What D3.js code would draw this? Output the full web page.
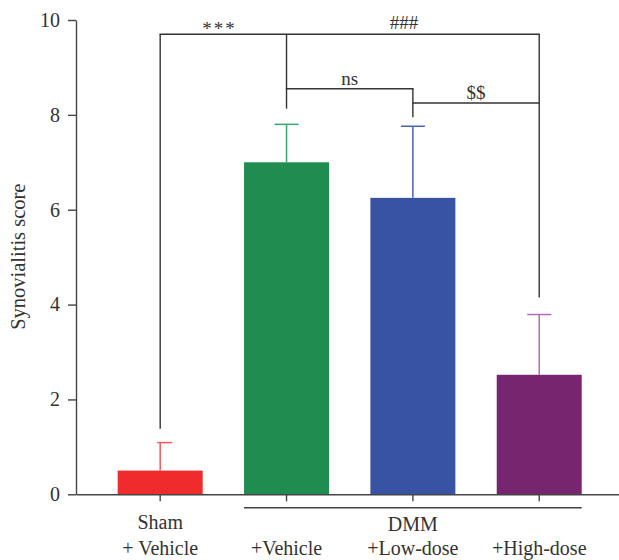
<!DOCTYPE html>
<html>
<head>
<meta charset="utf-8">
<script src="https://cdn.jsdelivr.net/npm/d3@7"></script>
<style>
  html, body { margin: 0; padding: 0; background: #fff; }
  svg { display: block; }
  text { font-family: "Liberation Serif", "DejaVu Serif", serif; fill: #333; }
</style>
</head>
<body>
<svg id="chart" width="619" height="560"></svg>
<script>
// ---- data ----
const categories = ["Sham + Vehicle", "DMM +Vehicle", "DMM +Low-dose", "DMM +High-dose"];
const tickLine1 = ["Sham", "", "DMM", ""];
const tickLine2 = ["+ Vehicle", "+Vehicle", "+Low-dose", "+High-dose"];
const means = [0.5, 7.0, 6.25, 2.52];
const errUpper = [1.09, 7.8, 7.76, 3.79];
const barColors = ["#ef2b2c", "#1e8d4f", "#3852a4", "#782570"];
const errColors = ["#f25a5a", "#3aa56c", "#4a64b6", "#b56cb5"];
const yTicks = [0, 2, 4, 6, 8, 10];
const yLabel = "Synovialitis score";
const groupLabel = "DMM";
// significance brackets: horizontal [fromIdx, toIdx, value]
const bracketH = [[0, 3, 9.7], [1, 2, 8.55], [2, 3, 8.25]];
// vertical legs: [idx, fromValue, toValue]
const bracketV = [[0, 9.7, 1.38], [1, 9.7, 8.13], [2, 8.55, 7.95], [3, 9.7, 4.15]];
// labels: [text, position as category index, value of baseline]
const sigLabels = [["***", 0.47, 9.68], ["###", 1.93, 9.82], ["ns", 1.5, 8.64], ["$$", 2.5, 8.34]];

// ---- layout ----
const svg = d3.select("#chart");
const x = d3.scaleBand().domain(categories).range([76, 623.4]).paddingInner(0.3273).paddingOuter(0.33);
const y = d3.scaleLinear().domain([0, 10]).range([494.3, 20]);
const cx = i => x(categories[i]) + x.bandwidth() / 2;
const cxf = f => { const i0 = Math.floor(f), i1 = Math.min(i0 + 1, categories.length - 1); return cx(i0) + (f - i0) * (cx(i1) - cx(i0)); };

// bars
svg.append("g").selectAll("rect").data(means).join("rect")
  .attr("x", (d, i) => x(categories[i]))
  .attr("width", x.bandwidth())
  .attr("y", d => y(d))
  .attr("height", d => y(0) - y(d))
  .attr("fill", (d, i) => barColors[i]);

// error bars
const eg = svg.append("g");
eg.selectAll("line.v").data(errUpper).join("line").attr("class", "v")
  .attr("x1", (d, i) => cx(i)).attr("x2", (d, i) => cx(i))
  .attr("y1", (d, i) => y(means[i])).attr("y2", d => y(d))
  .attr("stroke", (d, i) => errColors[i]).attr("stroke-width", 1.5);
eg.selectAll("line.c").data(errUpper).join("line").attr("class", "c")
  .attr("x1", (d, i) => cx(i) - (i === 0 ? 3 : 12)).attr("x2", (d, i) => cx(i) + 12)
  .attr("y1", d => y(d)).attr("y2", d => y(d))
  .attr("stroke", (d, i) => errColors[i]).attr("stroke-width", 1.5);

// brackets
const bg = svg.append("g").attr("stroke", "#333").attr("stroke-width", 1.4);
bg.selectAll("line.h").data(bracketH).join("line").attr("class", "h")
  .attr("x1", d => cx(d[0]) - 0.7).attr("x2", d => cx(d[1]) + 0.7)
  .attr("y1", d => y(d[2])).attr("y2", d => y(d[2]));
bg.selectAll("line.vv").data(bracketV).join("line").attr("class", "vv")
  .attr("x1", d => cx(d[0])).attr("x2", d => cx(d[0]))
  .attr("y1", d => y(d[1])).attr("y2", d => y(d[2]));
svg.append("g").selectAll("text").data(sigLabels).join("text")
  .attr("x", d => cxf(d[1])).attr("y", d => y(d[2]))
  .attr("text-anchor", "middle")
  .attr("font-size", d => d[0] === "***" ? 19 : 19)
  .attr("letter-spacing", d => d[0] === "***" ? 2 : 0)
  .text(d => d[0]);

// y axis
const yAxis = svg.append("g").attr("transform", "translate(76,0)")
  .call(d3.axisLeft(y).tickValues(yTicks).tickSize(8).tickSizeOuter(0).tickPadding(8));
yAxis.select(".domain").attr("stroke", "#444").attr("stroke-width", 1.4);
yAxis.selectAll(".tick line").attr("stroke", "#444").attr("stroke-width", 1.4);
yAxis.selectAll(".tick text").attr("font-size", 20).attr("font-family", "Liberation Serif").attr("fill", "#333");

// x axis
const xAxis = svg.append("g").attr("transform", `translate(0,${y(0)})`)
  .call(d3.axisBottom(x).tickSize(7).tickSizeOuter(0).tickFormat(""));
xAxis.select(".domain").attr("stroke", "#444").attr("stroke-width", 1.4);
xAxis.selectAll(".tick line").attr("stroke", "#444").attr("stroke-width", 1.4);

// x tick labels
const lg = svg.append("g").attr("font-size", 20).attr("text-anchor", "middle");
lg.selectAll("text.l1").data(tickLine1).join("text").attr("class", "l1")
  .attr("x", (d, i) => cx(i)).attr("y", (d, i) => i === 0 ? 529 : 530.5)
  .text(d => d);
lg.selectAll("text.l2").data(tickLine2).join("text").attr("class", "l2")
  .attr("x", (d, i) => cx(i)).attr("y", 555)
  .text(d => d);

// DMM group line
svg.append("line")
  .attr("x1", x(categories[1])).attr("x2", x(categories[3]) + x.bandwidth())
  .attr("y1", 507.7).attr("y2", 507.7)
  .attr("stroke", "#444").attr("stroke-width", 1.4);

// y label
svg.append("text")
  .attr("transform", "translate(25,256.7) rotate(-90)")
  .attr("text-anchor", "middle")
  .attr("font-size", 20.5)
  .text(yLabel);
</script>
</body>
</html>
